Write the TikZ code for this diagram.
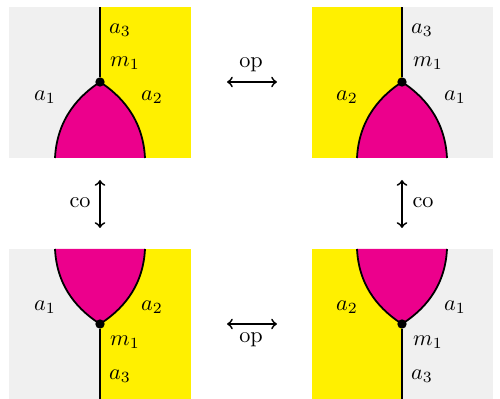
\documentclass[tikz,border=0pt]{standalone}
\usepackage{amsmath}
\usepackage{xcolor}
\usepackage{tikz}
\definecolor{leftgray}{RGB}{240,240,240}
\definecolor{rightyellow}{RGB}{255,240,0}
\definecolor{bubblemag}{RGB}{236,0,140}

\begin{document}
\begin{tikzpicture}[
  x=0.158mm, y=-0.158mm,
  grayreg/.style={fill=leftgray},
  yellowreg/.style={fill=rightyellow},
  bubble/.style={fill=bubblemag, draw=black, thick},
  wire/.style={draw=black, thick},
  vertex/.style={circle, fill=black, inner sep=0pt, minimum size=4.2pt},
  ar/.style={<->, thick}
]
  \useasboundingbox (0,0) rectangle (500,399);

  % top left
  \fill[grayreg] (9,7) rectangle (100,158);
  \fill[yellowreg] (100,7) rectangle (191,158);
  \path[bubble] (55,158) .. controls (57,118) and (80,95) .. (100,82)
                .. controls (120,95) and (143,118) .. (145,158);
  \node[vertex] (vTL) at (100,82) {};
  \coordinate (endTL) at (100,7);
  \draw[wire] (vTL) -- (endTL);
  \node (a3TL) at (120,30) {$a_3$};
  \node (m1TL) at (125,63) {$m_1$};
  \node (a1TL) at (45,97) {$a_1$};
  \node (a2TL) at (152,97) {$a_2$};

  % top right
  \fill[yellowreg] (312,7) rectangle (402,158);
  \fill[grayreg] (402,7) rectangle (493,158);
  \path[bubble] (357,158) .. controls (359,118) and (382,95) .. (402,82)
                .. controls (422,95) and (445,118) .. (447,158);
  \node[vertex] (vTR) at (402,82) {};
  \coordinate (endTR) at (402,7);
  \draw[wire] (vTR) -- (endTR);
  \node (a3TR) at (422,30) {$a_3$};
  \node (m1TR) at (428,63) {$m_1$};
  \node (a2TR) at (347,97) {$a_2$};
  \node (a1TR) at (455,97) {$a_1$};

  % bottom left
  \fill[grayreg] (9,249) rectangle (100,399);
  \fill[yellowreg] (100,249) rectangle (191,399);
  \path[bubble] (55,249) .. controls (57,289) and (80,311) .. (100,324)
                .. controls (120,311) and (143,289) .. (145,249);
  \node[vertex] (vBL) at (100,324) {};
  \coordinate (endBL) at (100,399);
  \draw[wire] (vBL) -- (endBL);
  \node (a1BL) at (45,307) {$a_1$};
  \node (a2BL) at (152,307) {$a_2$};
  \node (m1BL) at (125,342) {$m_1$};
  \node (a3BL) at (120,376) {$a_3$};

  % bottom right
  \fill[yellowreg] (312,249) rectangle (402,399);
  \fill[grayreg] (402,249) rectangle (493,399);
  \path[bubble] (357,249) .. controls (359,289) and (382,311) .. (402,324)
                .. controls (422,311) and (445,289) .. (447,249);
  \node[vertex] (vBR) at (402,324) {};
  \coordinate (endBR) at (402,399);
  \draw[wire] (vBR) -- (endBR);
  \node (a2BR) at (347,307) {$a_2$};
  \node (a1BR) at (455,307) {$a_1$};
  \node (m1BR) at (428,342) {$m_1$};
  \node (a3BR) at (422,376) {$a_3$};

  % the four arrows
  \coordinate (opTa) at (227,82);
  \coordinate (opTb) at (277,82);
  \draw[ar] (opTa) -- (opTb);
  \node (opT) at (251,65) {op};
  \coordinate (opBa) at (227,324);
  \coordinate (opBb) at (277,324);
  \draw[ar] (opBa) -- (opBb);
  \node (opB) at (251,340) {op};
  \coordinate (coLa) at (100,180);
  \coordinate (coLb) at (100,228);
  \draw[ar] (coLa) -- (coLb);
  \node (coL) at (80,203) {co};
  \coordinate (coRa) at (402,180);
  \coordinate (coRb) at (402,228);
  \draw[ar] (coRa) -- (coRb);
  \node (coR) at (423,203) {co};
\end{tikzpicture}
\end{document}
